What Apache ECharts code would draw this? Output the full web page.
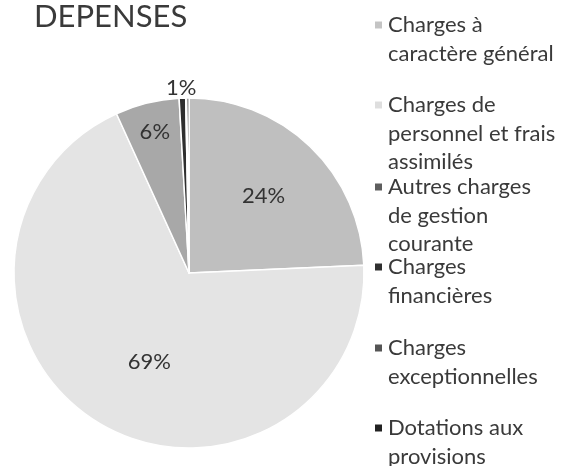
<!DOCTYPE html>
<html>
<head>
<meta charset="utf-8">
<script src="https://cdn.jsdelivr.net/npm/echarts@6/dist/echarts.min.js"></script>
<style>
  html, body { margin: 0; padding: 0; background: #fff; }
  #chart { width: 564px; height: 466px; }
</style>
</head>
<body>
<div id="chart"></div>
<script>
// categories (legend text, with the line breaks of the original)
const categories = [
  'Charges à\ncaractère général',
  'Charges de\npersonnel et frais\nassimilés',
  'Autres charges\nde gestion\ncourante',
  'Charges\nfinancières',
  'Charges\nexceptionnelles',
  'Dotations aux\nprovisions'
];
// share of expenses, in percent
const values = [24.3, 68.9, 5.9, 0.6, 0.1, 0.2];
const sliceColors = ['#bfbfbf', '#e4e4e4', '#a8a8a8', '#2e2e2e', '#555555', '#1c1c1c'];
const legendColors = ['#c4c4c4', '#dedede', '#5e5e5e', '#303030', '#555555', '#222222'];

const font = 'Lato, "Noto Sans", sans-serif';
const lineH = 28.5;
// y of each legend item's first line
const legendY = [25, 105, 187, 267, 348, 428];

// label nudges so the percentages sit where the original put them:
// [horizontal shift, vertical shift] in px
const labelShift = [
  [12, -12],
  [7.5, 12],
  [-12.5, -53],
  [0, -10],
  [0, 0],
  [0, 0]
];

function labelText(txt, dy) {
  if (dy < 0) return '{v|' + txt + '}\n{g| }';
  if (dy > 0) return '{g| }\n{v|' + txt + '}';
  return '{v|' + txt + '}';
}

const legends = categories.map((name, i) => {
  const n = name.split('\n').length;
  const gap = (n - 1) * lineH;
  return {
    left: 373,
    top: legendY[i] - (2 * n - 1) * lineH / 2,
    padding: 0,
    itemWidth: 9,
    itemHeight: 9,
    itemGap: 0,
    orient: 'vertical',
    icon: 'rect',
    selectedMode: false,
    formatter: nm => '{g| }\n' + nm,
    data: [{ name: name, itemStyle: { color: legendColors[i] } }],
    textStyle: {
      fontFamily: font,
      fontSize: 22,
      color: '#3a3a3a',
      lineHeight: lineH,
      rich: { g: { fontSize: 1, lineHeight: gap, height: gap } }
    }
  };
});

const chart = echarts.init(document.getElementById('chart'));

chart.setOption({
  backgroundColor: '#ffffff',
  animation: false,
  title: {
    text: 'DEPENSES',
    left: 29,
    top: -4,
    textStyle: {
      fontFamily: font,
      fontSize: 31,
      fontWeight: 'normal',
      color: '#3a3a3a'
    }
  },
  legend: legends,
  series: [{
    type: 'pie',
    center: [189, 273],
    radius: [0, 175],
    startAngle: 90,
    clockwise: true,
    avoidLabelOverlap: false,
    itemStyle: { borderColor: '#ffffff', borderWidth: 1.5 },
    labelLine: { show: false, length: 0, length2: 0 },
    emphasis: { disabled: true },
    data: categories.map((name, i) => {
      const dx = labelShift[i][0], dy = labelShift[i][1];
      const gap = Math.abs(dy) * 2;
      // the 1% slice is too thin to hold its label, so it sits outside
      const outside = i === 3;
      return {
        name: name,
        value: values[i],
        itemStyle: { color: sliceColors[i] },
        label: {
          show: i < 4,
          position: outside ? 'outside' : 'inside',
          distanceToLabelLine: outside ? -14 : 5,
          formatter: p => labelText(Math.round(p.percent) + '%', dy),
          padding: [0, dx < 0 ? -2 * dx : 0, 0, dx > 0 ? 2 * dx : 0],
          rich: {
            v: { fontFamily: font, fontSize: 22, color: '#333333', lineHeight: 24 },
            g: { fontSize: 1, lineHeight: gap || 1, height: gap || 1 }
          }
        }
      };
    })
  }]
});
</script>
</body>
</html>
